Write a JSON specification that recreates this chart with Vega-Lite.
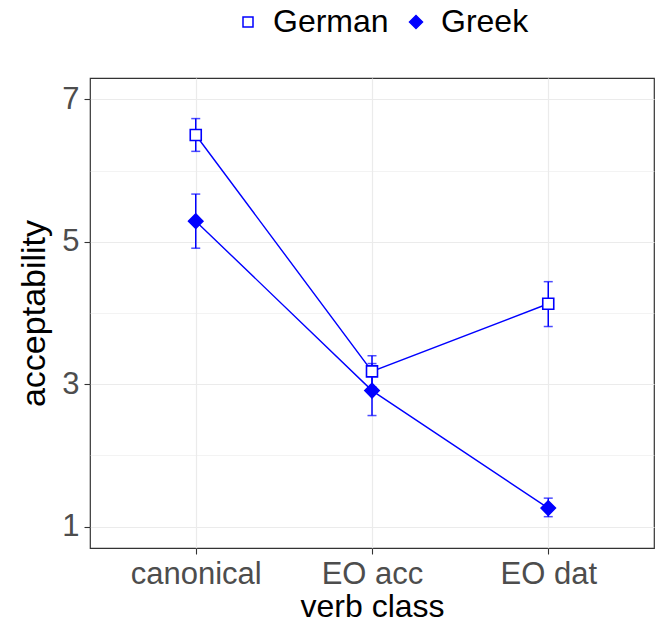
{
  "$schema": "https://vega.github.io/schema/vega-lite/v6.json",
  "width": 564,
  "height": 470,
  "autosize": {"type": "none"},
  "padding": {"left": 90, "top": 78, "right": 1, "bottom": 79},
  "background": "white",
  "config": {
    "font": "Liberation Sans",
    "view": {"stroke": "#333333", "strokeWidth": 1.2},
    "axis": {"domain": false, "tickColor": "#333333", "tickSize": 6, "tickWidth": 1.1, "gridColor": "#EBEBEB", "labelColor": "#4D4D4D", "labelFontSize": 31, "titleFontSize": 32, "titleColor": "black", "titleFontWeight": "normal"}
  },
  "data": {
    "values": [
      {"verb": "canonical", "lang": "German", "mean": 6.50, "lo": 6.27, "hi": 6.73},
      {"verb": "EO acc", "lang": "German", "mean": 3.18, "lo": 2.96, "hi": 3.40},
      {"verb": "EO dat", "lang": "German", "mean": 4.13, "lo": 3.81, "hi": 4.44},
      {"verb": "canonical", "lang": "Greek", "mean": 5.29, "lo": 4.91, "hi": 5.67},
      {"verb": "EO acc", "lang": "Greek", "mean": 2.91, "lo": 2.56, "hi": 3.29},
      {"verb": "EO dat", "lang": "Greek", "mean": 1.26, "lo": 1.14, "hi": 1.40}
    ]
  },
  "encoding": {
    "x": {
      "field": "verb",
      "type": "nominal",
      "sort": ["canonical", "EO acc", "EO dat"],
      "scale": {"type": "point", "padding": 0.6},
      "axis": {"title": "verb class", "labelAngle": 0, "labelPadding": 5, "titlePadding": 2, "grid": true, "gridWidth": 1.2}
    }
  },
  "layer": [
    {
      "mark": {"type": "line", "color": "#0000FF", "strokeWidth": 1.4},
      "encoding": {
        "y": {
          "field": "mean",
          "type": "quantitative",
          "title": "acceptability",
          "scale": {"domain": [0.7, 7.3], "nice": false, "zero": false},
          "axis": {
            "title": "acceptability",
            "titleFontSize": 34,
            "values": [1, 2, 3, 4, 5, 6, 7],
            "format": "d",
            "labelExpr": "datum.value % 2 == 1 ? datum.label : ''",
            "tickOpacity": {"condition": {"test": "datum.value % 2 == 0", "value": 0}, "value": 1},
            "gridWidth": {"condition": {"test": "datum.value % 2 == 0", "value": 0.6}, "value": 1.2},
            "labelPadding": 5,
            "titlePadding": 10
          }
        },
        "detail": {"field": "lang"}
      }
    },
    {
      "mark": {"type": "rule", "color": "#0000FF", "strokeWidth": 1.5},
      "encoding": {
        "y": {"field": "lo", "type": "quantitative", "title": "acceptability"},
        "y2": {"field": "hi"}
      }
    },
    {
      "mark": {"type": "tick", "color": "#0000FF", "thickness": 1.5, "size": 9, "orient": "horizontal"},
      "encoding": {"y": {"field": "lo", "type": "quantitative", "title": "acceptability"}}
    },
    {
      "mark": {"type": "tick", "color": "#0000FF", "thickness": 1.5, "size": 9, "orient": "horizontal"},
      "encoding": {"y": {"field": "hi", "type": "quantitative", "title": "acceptability"}}
    },
    {
      "mark": {"type": "point", "stroke": "#0000FF", "strokeWidth": 1.6, "opacity": 1, "size": 121},
      "encoding": {
        "y": {"field": "mean", "type": "quantitative", "title": "acceptability"},
        "shape": {
          "field": "lang",
          "type": "nominal",
          "scale": {"domain": ["German", "Greek"], "range": ["square", "M-1.3,0L0,-1.3L1.3,0L0,1.3Z"]},
          "legend": {
            "title": null,
            "orient": "none",
            "direction": "horizontal",
            "legendX": 142,
            "legendY": -72,
            "padding": 0,
            "labelFontSize": 32,
            "labelColor": "black",
            "labelOffset": 9,
            "columnPadding": 11,
            "symbolSize": 100,
            "encode": {"symbols": {"update": {"stroke": {"value": "#0000FF"}, "strokeWidth": {"value": 1.6}}}}
          }
        },
        "fill": {
          "field": "lang",
          "type": "nominal",
          "scale": {"domain": ["German", "Greek"], "range": ["white", "#0000FF"]},
          "legend": {
            "title": null,
            "orient": "none",
            "direction": "horizontal",
            "legendX": 142,
            "legendY": -72,
            "padding": 0,
            "labelFontSize": 32,
            "labelColor": "black",
            "labelOffset": 9,
            "columnPadding": 11,
            "symbolSize": 100,
            "encode": {"symbols": {"update": {"stroke": {"value": "#0000FF"}, "strokeWidth": {"value": 1.6}}}}
          }
        }
      }
    }
  ]
}
